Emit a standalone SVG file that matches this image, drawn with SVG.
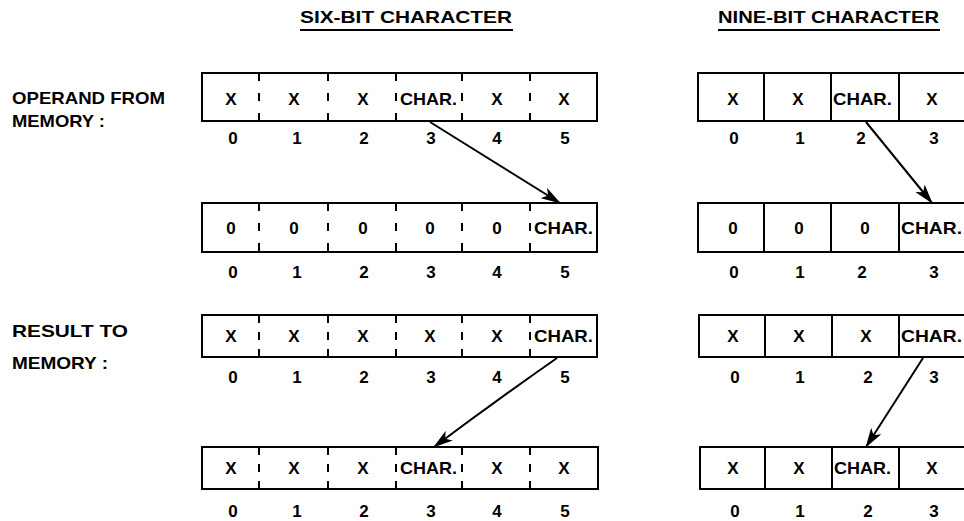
<svg xmlns="http://www.w3.org/2000/svg" width="964" height="521" viewBox="0 0 964 521">
  <defs>
    <marker id="arrowhead" markerWidth="20" markerHeight="12" refX="19" refY="6" orient="auto" markerUnits="userSpaceOnUse">
      <path d="M0,0 L20,6 L0,12 L5,6 Z" fill="#000"/>
    </marker>
    <style>
      text { font-family: "Liberation Sans", Arial, sans-serif; font-weight: bold; fill: #000; }
      .title { font-size: 17px; }
      .label { font-size: 17px; }
      .cell { font-size: 17px; text-anchor: middle; }
      .char { font-size: 17px; }
      .num { font-size: 17px; text-anchor: middle; }
      .frame { fill: #fff; stroke: #000; stroke-width: 2; }
      .solid { stroke: #000; stroke-width: 2; }
      .dash48 { stroke: #000; stroke-width: 2; stroke-dasharray: 8 12 8 12 8; }
      .dash42 { stroke: #000; stroke-width: 2; stroke-dasharray: 8 9 8 9 8; }
      .rule { stroke: #000; stroke-width: 2; }
      .conn { stroke: #000; stroke-width: 2; fill: none; marker-end: url(#arrowhead); }
    </style>
  </defs>

  <rect width="964" height="521" fill="#fff"/>

  <!-- column headings -->
  <g id="heading-six">
    <text class="title" x="300" y="23" textLength="212" lengthAdjust="spacingAndGlyphs">SIX-BIT CHARACTER</text>
    <line class="rule" x1="300" y1="30" x2="513" y2="30"/>
  </g>
  <g id="heading-nine">
    <text class="title" x="718" y="23" textLength="221" lengthAdjust="spacingAndGlyphs">NINE-BIT CHARACTER</text>
    <line class="rule" x1="718" y1="30" x2="940" y2="30"/>
  </g>

  <!-- row captions -->
  <g id="caption-operand">
    <text class="label" x="12" y="104" textLength="153" lengthAdjust="spacingAndGlyphs">OPERAND  FROM</text>
    <text class="label" x="12" y="127" textLength="93" lengthAdjust="spacingAndGlyphs">MEMORY :</text>
  </g>
  <g id="caption-result">
    <text class="label" x="12" y="337" textLength="116" lengthAdjust="spacingAndGlyphs">RESULT  TO</text>
    <text class="label" x="12" y="369" textLength="96" lengthAdjust="spacingAndGlyphs">MEMORY :</text>
  </g>

  <!-- six-bit: operand from memory -->
  <g id="six-operand">
    <rect class="frame" x="202" y="73" width="395" height="48"/>
    <line class="dash48" x1="259" y1="73" x2="259" y2="121"/>
    <line class="dash48" x1="328" y1="73" x2="328" y2="121"/>
    <line class="dash48" x1="396" y1="73" x2="396" y2="121"/>
    <line class="dash48" x1="462" y1="73" x2="462" y2="121"/>
    <line class="dash48" x1="530" y1="73" x2="530" y2="121"/>
    <text class="cell" x="231" y="105">X</text>
    <text class="cell" x="294" y="105">X</text>
    <text class="cell" x="363" y="105">X</text>
    <text class="char" x="400" y="105" textLength="57" lengthAdjust="spacingAndGlyphs">CHAR.</text>
    <text class="cell" x="497" y="105">X</text>
    <text class="cell" x="564" y="105">X</text>
    <text class="num" x="233" y="144">0</text>
    <text class="num" x="297" y="144">1</text>
    <text class="num" x="364" y="144">2</text>
    <text class="num" x="431" y="144">3</text>
    <text class="num" x="497" y="144">4</text>
    <text class="num" x="565" y="144">5</text>
  </g>

  <!-- six-bit: right-justified, zero-filled -->
  <g id="six-shifted">
    <rect class="frame" x="202" y="203" width="395" height="49"/>
    <line class="dash48" x1="259" y1="203" x2="259" y2="252"/>
    <line class="dash48" x1="328" y1="203" x2="328" y2="252"/>
    <line class="dash48" x1="396" y1="203" x2="396" y2="252"/>
    <line class="dash48" x1="462" y1="203" x2="462" y2="252"/>
    <line class="dash48" x1="530" y1="203" x2="530" y2="252"/>
    <text class="cell" x="231" y="234">0</text>
    <text class="cell" x="294" y="234">0</text>
    <text class="cell" x="363" y="234">0</text>
    <text class="cell" x="430" y="234">0</text>
    <text class="cell" x="497" y="234">0</text>
    <text class="char" x="534" y="234" textLength="59" lengthAdjust="spacingAndGlyphs">CHAR.</text>
    <text class="num" x="233" y="278">0</text>
    <text class="num" x="297" y="278">1</text>
    <text class="num" x="364" y="278">2</text>
    <text class="num" x="431" y="278">3</text>
    <text class="num" x="497" y="278">4</text>
    <text class="num" x="565" y="278">5</text>
  </g>

  <!-- six-bit: result to memory -->
  <g id="six-result">
    <rect class="frame" x="202" y="315" width="395" height="42"/>
    <line class="dash42" x1="259" y1="315" x2="259" y2="357"/>
    <line class="dash42" x1="328" y1="315" x2="328" y2="357"/>
    <line class="dash42" x1="396" y1="315" x2="396" y2="357"/>
    <line class="dash42" x1="462" y1="315" x2="462" y2="357"/>
    <line class="dash42" x1="530" y1="315" x2="530" y2="357"/>
    <text class="cell" x="231" y="342">X</text>
    <text class="cell" x="294" y="342">X</text>
    <text class="cell" x="363" y="342">X</text>
    <text class="cell" x="430" y="342">X</text>
    <text class="cell" x="497" y="342">X</text>
    <text class="char" x="534" y="342" textLength="59" lengthAdjust="spacingAndGlyphs">CHAR.</text>
    <text class="num" x="233" y="383">0</text>
    <text class="num" x="297" y="383">1</text>
    <text class="num" x="364" y="383">2</text>
    <text class="num" x="431" y="383">3</text>
    <text class="num" x="497" y="383">4</text>
    <text class="num" x="565" y="383">5</text>
  </g>

  <!-- six-bit: character stored back in place -->
  <g id="six-stored">
    <rect class="frame" x="202" y="447" width="396" height="42"/>
    <line class="dash42" x1="259" y1="447" x2="259" y2="489"/>
    <line class="dash42" x1="328" y1="447" x2="328" y2="489"/>
    <line class="dash42" x1="396" y1="447" x2="396" y2="489"/>
    <line class="dash42" x1="462" y1="447" x2="462" y2="489"/>
    <line class="dash42" x1="530" y1="447" x2="530" y2="489"/>
    <text class="cell" x="231" y="474">X</text>
    <text class="cell" x="294" y="474">X</text>
    <text class="cell" x="363" y="474">X</text>
    <text class="char" x="400" y="474" textLength="57" lengthAdjust="spacingAndGlyphs">CHAR.</text>
    <text class="cell" x="497" y="474">X</text>
    <text class="cell" x="564" y="474">X</text>
    <text class="num" x="233" y="517">0</text>
    <text class="num" x="297" y="517">1</text>
    <text class="num" x="364" y="517">2</text>
    <text class="num" x="431" y="517">3</text>
    <text class="num" x="497" y="517">4</text>
    <text class="num" x="565" y="517">5</text>
  </g>

  <!-- nine-bit: operand from memory -->
  <g id="nine-operand">
    <rect class="frame" x="698" y="73" width="270" height="48"/>
    <line class="solid" x1="764" y1="73" x2="764" y2="121"/>
    <line class="solid" x1="831" y1="73" x2="831" y2="121"/>
    <line class="solid" x1="899" y1="73" x2="899" y2="121"/>
    <text class="cell" x="733" y="105">X</text>
    <text class="cell" x="798" y="105">X</text>
    <text class="char" x="833" y="105" textLength="59" lengthAdjust="spacingAndGlyphs">CHAR.</text>
    <text class="cell" x="932" y="105">X</text>
    <text class="num" x="734" y="144">0</text>
    <text class="num" x="800" y="144">1</text>
    <text class="num" x="861" y="144">2</text>
    <text class="num" x="934" y="144">3</text>
  </g>

  <!-- nine-bit: right-justified, zero-filled -->
  <g id="nine-shifted">
    <rect class="frame" x="698" y="203" width="270" height="49"/>
    <line class="solid" x1="764" y1="203" x2="764" y2="252"/>
    <line class="solid" x1="831" y1="203" x2="831" y2="252"/>
    <line class="solid" x1="899" y1="203" x2="899" y2="252"/>
    <text class="cell" x="733" y="234">0</text>
    <text class="cell" x="799" y="234">0</text>
    <text class="cell" x="865" y="234">0</text>
    <text class="char" x="901" y="234" textLength="61" lengthAdjust="spacingAndGlyphs">CHAR.</text>
    <text class="num" x="734" y="278">0</text>
    <text class="num" x="800" y="278">1</text>
    <text class="num" x="862" y="278">2</text>
    <text class="num" x="934" y="278">3</text>
  </g>

  <!-- nine-bit: result to memory -->
  <g id="nine-result">
    <rect class="frame" x="699" y="315" width="270" height="42"/>
    <line class="solid" x1="765" y1="315" x2="765" y2="357"/>
    <line class="solid" x1="832" y1="315" x2="832" y2="357"/>
    <line class="solid" x1="899" y1="315" x2="899" y2="357"/>
    <text class="cell" x="733" y="342">X</text>
    <text class="cell" x="799" y="342">X</text>
    <text class="cell" x="866" y="342">X</text>
    <text class="char" x="901" y="342" textLength="61" lengthAdjust="spacingAndGlyphs">CHAR.</text>
    <text class="num" x="735" y="383">0</text>
    <text class="num" x="800" y="383">1</text>
    <text class="num" x="868" y="383">2</text>
    <text class="num" x="934" y="383">3</text>
  </g>

  <!-- nine-bit: character stored back in place -->
  <g id="nine-stored">
    <rect class="frame" x="700" y="447" width="270" height="42"/>
    <line class="solid" x1="765" y1="447" x2="765" y2="489"/>
    <line class="solid" x1="832" y1="447" x2="832" y2="489"/>
    <line class="solid" x1="899" y1="447" x2="899" y2="489"/>
    <text class="cell" x="733" y="474">X</text>
    <text class="cell" x="799" y="474">X</text>
    <text class="char" x="834" y="474" textLength="57" lengthAdjust="spacingAndGlyphs">CHAR.</text>
    <text class="cell" x="932" y="474">X</text>
    <text class="num" x="735" y="517">0</text>
    <text class="num" x="800" y="517">1</text>
    <text class="num" x="868" y="517">2</text>
    <text class="num" x="934" y="517">3</text>
  </g>

  <!-- data-movement arrows -->
  <g id="connectors">
    <line class="conn" x1="430" y1="122" x2="560" y2="203"/>
    <line class="conn" x1="866" y1="122" x2="932" y2="203"/>
    <path class="conn" d="M557,358 Q497,400 434,447"/>
    <line class="conn" x1="923" y1="358" x2="866" y2="447"/>
  </g>
</svg>
